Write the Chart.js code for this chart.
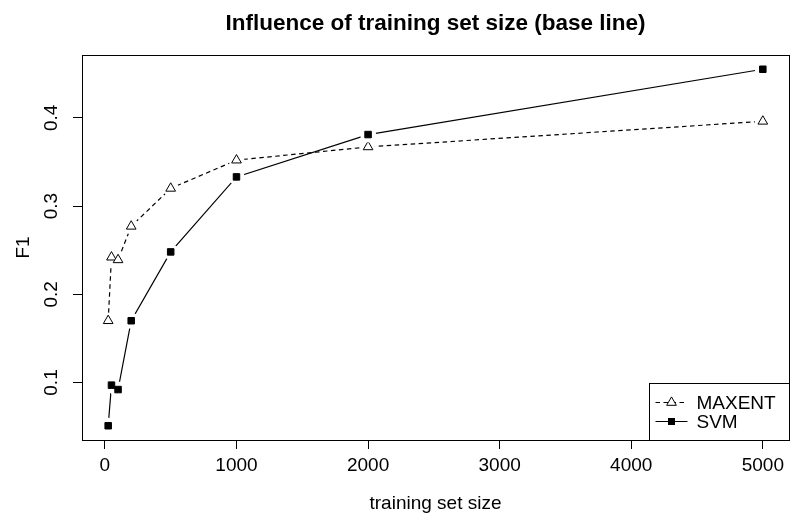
<!DOCTYPE html>
<html>
<head>
<meta charset="utf-8">
<script src="https://cdn.jsdelivr.net/npm/chart.js"></script>
<style>
  html, body { margin: 0; padding: 0; background: #fff; overflow: hidden; }
  #wrap { width: 797px; height: 515px; }
</style>
</head>
<body>
<div id="wrap"><canvas id="chart" width="797" height="515"></canvas></div>
<script>
// values
const trainingSizes = [25, 50, 100, 200, 500, 1000, 2000, 5000];
const maxentF1 = [0.170, 0.242, 0.239, 0.277, 0.320, 0.352, 0.367, 0.396];
const svmF1 = [0.051, 0.097, 0.092, 0.170, 0.248, 0.333, 0.381, 0.455];
const xTickValues = [0, 1000, 2000, 3000, 4000, 5000];
const yTickValues = [0.1, 0.2, 0.3, 0.4];
const seriesNames = ['MAXENT', 'SVM'];

const FONT = "'Liberation Sans', Arial, Helvetica, sans-serif";
Chart.defaults.font.family = FONT;
Chart.defaults.color = '#000';

// R style axis range: data range plus 4% each side
function rRange(vals) {
  const lo = Math.min(...vals), hi = Math.max(...vals);
  const pad = (hi - lo) * 0.04;
  return [lo - pad, hi + pad];
}
const [xMin, xMax] = rRange(trainingSizes);
const [yMin, yMax] = rRange(maxentF1.concat(svmF1));

function pts(ys) {
  return trainingSizes.map((x, i) => ({ x: x, y: ys[i] }));
}

// line, white gap round the points, then the markers (like R type="b")
function lineSet(label, ys, dash, order) {
  return { label: label, data: pts(ys), borderColor: '#000', borderWidth: 1.2,
    borderDash: dash, pointRadius: 0, fill: false, tension: 0, order: order };
}
function gapSet(ys, order) {
  return { label: '', data: pts(ys), showLine: false, pointRadius: 8,
    pointBackgroundColor: '#fff', pointBorderWidth: 0, order: order };
}
function markSet(label, ys, style, fillCol, radius, order) {
  return { label: label, data: pts(ys), showLine: false, pointStyle: style,
    pointRadius: radius, pointBackgroundColor: fillCol, pointBorderColor: '#000',
    pointBorderWidth: 1, order: order };
}

const boxPlugin = {
  id: 'rbox',
  afterDatasetsDraw(chart) {
    const a = chart.chartArea, ctx = chart.ctx;
    ctx.save();
    ctx.strokeStyle = '#000';
    ctx.lineWidth = 1;
    ctx.strokeRect(Math.round(a.left) + 0.5, Math.round(a.top) + 0.5,
      Math.round(a.right - a.left), Math.round(a.bottom - a.top));
    ctx.restore();
  }
};

const legendPlugin = {
  id: 'rlegend',
  afterDraw(chart) {
    const a = chart.chartArea, ctx = chart.ctx;
    const right = Math.round(a.right) + 0.5, bottom = Math.round(a.bottom) + 0.5;
    const left = right - 140, top = bottom - 57;
    ctx.save();
    ctx.fillStyle = '#fff';
    ctx.fillRect(left, top, right - left, bottom - top);
    ctx.strokeStyle = '#000';
    ctx.lineWidth = 1;
    ctx.strokeRect(left, top, right - left, bottom - top);
    const rows = [top + 19, top + 38];
    seriesNames.forEach((name, i) => {
      const y = rows[i];
      ctx.beginPath();
      ctx.setLineDash(i === 0 ? [4.5, 3.5] : []);
      ctx.lineWidth = 1.2;
      ctx.moveTo(left + 6, y);
      ctx.lineTo(left + 38, y);
      ctx.stroke();
      ctx.setLineDash([]);
      const mx = left + 22;
      ctx.beginPath();
      if (i === 0) {
        const r = 5.6;
        ctx.moveTo(mx, y - r);
        ctx.lineTo(mx + r * Math.sin(Math.PI * 2 / 3), y - r * Math.cos(Math.PI * 2 / 3));
        ctx.lineTo(mx - r * Math.sin(Math.PI * 2 / 3), y - r * Math.cos(Math.PI * 2 / 3));
        ctx.closePath();
        ctx.fillStyle = '#fff';
        ctx.fill();
        ctx.lineWidth = 1;
        ctx.stroke();
      } else {
        ctx.fillStyle = '#000';
        ctx.fillRect(mx - 3.5, y - 3.5, 7, 7);
      }
      ctx.fillStyle = '#000';
      ctx.font = '19px ' + FONT;
      ctx.textBaseline = 'middle';
      ctx.textAlign = 'left';
      ctx.fillText(name, left + 47, y + 1);
    });
    ctx.restore();
  }
};

new Chart(document.getElementById('chart'), {
  type: 'line',
  data: {
    datasets: [
      lineSet(seriesNames[0], maxentF1, [4.5, 3.5], 6),
      gapSet(maxentF1, 5),
      markSet(seriesNames[0], maxentF1, 'triangle', '#fff', 5.6, 4),
      lineSet(seriesNames[1], svmF1, [], 3),
      gapSet(svmF1, 2),
      markSet(seriesNames[1], svmF1, 'rect', '#000', 4.6, 1)
    ]
  },
  options: {
    responsive: false,
    animation: false,
    devicePixelRatio: 1,
    layout: { padding: { left: 0, right: -2, top: 0, bottom: 0 } },
    plugins: {
      legend: { display: false },
      tooltip: { enabled: false },
      title: {
        display: true,
        text: 'Influence of training set size (base line)',
        fullSize: false,
        color: '#000',
        font: { size: 22.5, weight: 'bold', lineHeight: 1.2 },
        padding: { top: 10.5, bottom: 17.5 }
      }
    },
    scales: {
      x: {
        type: 'linear',
        min: xMin,
        max: xMax,
        afterBuildTicks: s => { s.ticks = xTickValues.map(v => ({ value: v })); },
        afterFit: s => { s.height = 75; },
        ticks: { callback: v => String(v), font: { size: 19 }, padding: 5.6, maxRotation: 0, autoSkip: false, color: '#000' },
        grid: { display: true, drawOnChartArea: false, drawTicks: true, tickLength: 9, color: '#000', lineWidth: 1 },
        border: { display: false },
        title: { display: true, text: 'training set size', font: { size: 19, lineHeight: 1.2 }, padding: { top: 0, bottom: 0 }, color: '#000' }
      },
      y: {
        type: 'linear',
        min: yMin,
        max: yMax,
        afterBuildTicks: s => { s.ticks = yTickValues.map(v => ({ value: v })); },
        afterFit: s => { s.width = 82; },
        ticks: { callback: v => v.toFixed(1), font: { size: 19 }, padding: 7.8, minRotation: 90, maxRotation: 90, crossAlign: 'center', autoSkip: false, color: '#000' },
        grid: { display: true, drawOnChartArea: false, drawTicks: true, tickLength: 9, color: '#000', lineWidth: 1 },
        border: { display: false },
        title: { display: true, text: 'F1', font: { size: 19, lineHeight: 1.2 }, padding: { top: 12.6, bottom: 0 }, color: '#000' }
      }
    }
  },
  plugins: [boxPlugin, legendPlugin]
});
</script>
</body>
</html>
